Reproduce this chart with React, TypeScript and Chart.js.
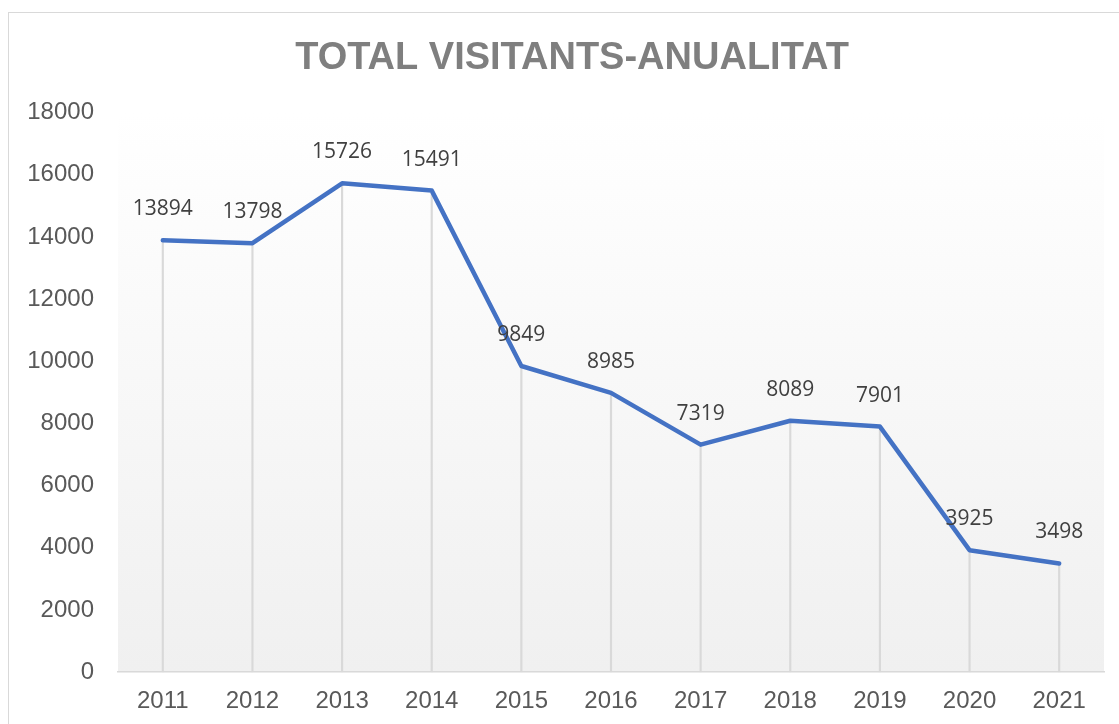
import React, { useEffect, useRef } from "react";
import { Chart, registerables } from "chart.js";

Chart.register(...registerables);

const TITLE = "TOTAL VISITANTS-ANUALITAT";
const YEARS = ["2011", "2012", "2013", "2014", "2015", "2016", "2017", "2018", "2019", "2020", "2021"];
const VISITORS = [13894, 13798, 15726, 15491, 9849, 8985, 7319, 8089, 7901, 3925, 3498];
const Y_MIN = 0;
const Y_MAX = 18000;
const Y_STEP = 2000;

const CANVAS_W = 1140;
const CANVAS_H = 728;

const plotBackground = {
  id: "plotBackground",
  beforeDraw(chart: any) {
    const { ctx, chartArea } = chart;
    if (!chartArea) return;
    const g = ctx.createLinearGradient(0, chartArea.top, 0, chartArea.bottom);
    g.addColorStop(0, "#ffffff");
    g.addColorStop(1, "#f0f0f0");
    ctx.save();
    ctx.fillStyle = g;
    ctx.fillRect(chartArea.left, chartArea.top, chartArea.right - chartArea.left, chartArea.bottom - chartArea.top);
    ctx.restore();
  },
};

const valueLabels = {
  id: "valueLabels",
  afterDatasetsDraw(chart: any) {
    const { ctx } = chart;
    const idx = chart.data.datasets.findIndex((d: any) => d.type === "line");
    const meta = chart.getDatasetMeta(idx);
    const data = chart.data.datasets[idx].data as number[];
    ctx.save();
    ctx.font = '21px "Open Sans", "Noto Sans", sans-serif';
    ctx.fillStyle = "#404040";
    ctx.textAlign = "center";
    ctx.textBaseline = "middle";
    meta.data.forEach((pt: any, i: number) => {
      ctx.fillText(String(data[i]), pt.x, pt.y - 31);
    });
    ctx.restore();
  },
};

export default function App() {
  const ref = useRef<HTMLCanvasElement | null>(null);

  useEffect(() => {
    if (!ref.current) return;
    const chart = new Chart(ref.current, {
      type: "line",
      data: {
        labels: YEARS,
        datasets: [
          {
            type: "line",
            data: VISITORS,
            borderColor: "#4472C4",
            borderWidth: 4.5,
            pointRadius: 0,
            tension: 0,
            borderJoinStyle: "round",
            borderCapStyle: "round",
            fill: false,
            order: 1,
            yAxisID: "y",
          } as any,
          {
            type: "bar",
            data: VISITORS,
            backgroundColor: "#d9d9d9",
            barThickness: 1.5,
            order: 2,
            yAxisID: "y",
          } as any,
        ],
      },
      options: {
        responsive: false,
        animation: false,
        devicePixelRatio: 1,
        layout: { padding: { left: 0, right: CANVAS_W - 1126, top: 0, bottom: 10 } },
        plugins: {
          legend: { display: false },
          tooltip: { enabled: false },
          title: {
            display: true,
            text: TITLE,
            color: "#7f7f7f",
            font: { family: '"Liberation Sans", Arial, sans-serif', size: 38, weight: "bold" },
            padding: { top: 23, bottom: 31 },
          },
        },
        scales: {
          x: {
            offset: true,
            grid: { display: false, drawTicks: false },
            border: { display: true, color: "#d9d9d9", width: 1.5 },
            ticks: {
              color: "#595959",
              font: { family: '"Liberation Sans", Arial, sans-serif', size: 24 },
              padding: 15,
            },
          },
          y: {
            position: "left",
            min: Y_MIN,
            max: Y_MAX,
            grid: { display: false, drawTicks: false },
            border: { display: false },
            ticks: {
              stepSize: Y_STEP,
              color: "#595959",
              font: { family: '"Liberation Sans", Arial, sans-serif', size: 24 },
              padding: 24,
              callback: (v: any) => String(v),
            },
            afterFit(scale: any) {
              scale.width = 109;
            },
          },
          yRightSpace: {
            position: "right",
            min: Y_MIN,
            max: Y_MAX,
            grid: { display: false, drawTicks: false },
            border: { display: false },
            ticks: { display: false },
            afterFit(scale: any) {
              scale.width = 31;
            },
          },
        },
      },
      plugins: [plotBackground, valueLabels],
    });
    return () => chart.destroy();
  }, []);

  return (
    <div style={{ position: "fixed", inset: 0, overflow: "hidden", background: "#ffffff" }}>
      <div
        style={{
          position: "absolute",
          left: 8,
          top: 12,
          width: CANVAS_W + 2,
          height: CANVAS_H + 2,
          border: "1px solid #d9d9d9",
          boxSizing: "border-box",
          background: "#ffffff",
        }}
      >
        <canvas
          ref={ref}
          width={CANVAS_W}
          height={CANVAS_H}
          style={{ display: "block", width: CANVAS_W, height: CANVAS_H }}
        />
      </div>
    </div>
  );
}
